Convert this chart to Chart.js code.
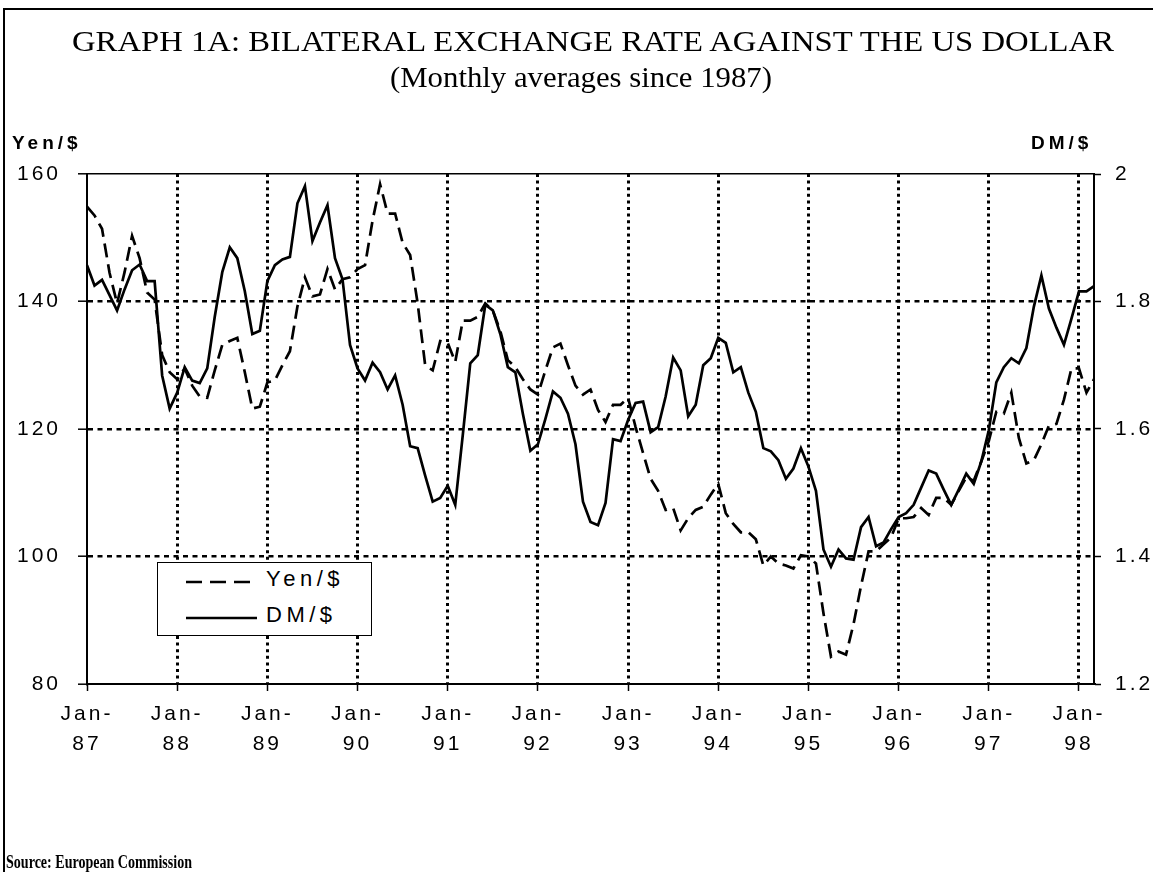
<!DOCTYPE html>
<html>
<head>
<meta charset="utf-8">
<script src="https://cdn.jsdelivr.net/npm/chart.js@4.4.1/dist/chart.umd.min.js"></script>
<style>
  html, body { margin: 0; padding: 0; background: #fff; }
  #wrap { position: relative; width: 1153px; height: 872px; overflow: hidden; background: #fff; }
  #chart { position: absolute; left: 0; top: 0; }
  .frameL { position: absolute; left: 3px; top: 8px; width: 2px; height: 864px; background: #000; }
  .frameT { position: absolute; left: 3px; top: 8px; width: 1150px; height: 2px; background: #000; }
  .title { position: absolute; white-space: nowrap; line-height: 34px;
           font-family: "Liberation Serif", "Times New Roman", serif; color: #000; }
  .title span { display: inline-block; transform-origin: 0 50%; }
  .unit { position: absolute; font-family: "Liberation Sans", Arial, sans-serif; font-weight: bold;
          font-size: 19px; letter-spacing: 4px; line-height: 22px; color: #000; white-space: nowrap; }
  #legend { position: absolute; left: 157px; top: 562px; width: 213px; height: 72px;
            border: 1.5px solid #000; background: #fff; }
  .lg { position: absolute; left: 108px; font-family: "Liberation Sans", Arial, sans-serif;
        font-size: 22px; letter-spacing: 4.5px; line-height: 26px; color: #000; white-space: nowrap; }
  #legend svg { position: absolute; left: 0; top: 0; }
  #source { position: absolute; left: 6px; top: 851px; font-family: "Liberation Serif", "Times New Roman", serif;
            font-weight: bold; font-size: 18px; line-height: 22px; color: #000; white-space: nowrap; }
  #source span { display: inline-block; transform-origin: 0 50%; }
</style>
</head>
<body>
<div id="wrap">
  <canvas id="chart" width="1153" height="872"></canvas>
  <div class="frameL"></div>
  <div class="frameT"></div>
  <div class="title" id="d1" style="left:72px;top:24px;font-size:29px;"><span id="t1">GRAPH 1A: BILATERAL EXCHANGE RATE AGAINST THE US DOLLAR</span></div>
  <div class="title" id="d2" style="left:390px;top:60px;font-size:29px;"><span id="t2">(Monthly averages since 1987)</span></div>
  <div class="unit" style="left:12px;top:132px;">Yen/$</div>
  <div class="unit" style="left:1031px;top:132px;">DM/$</div>
  <div id="legend">
    <svg width="213" height="72">
      <line x1="28" y1="19" x2="94" y2="19" stroke="#000" stroke-width="2.5" stroke-dasharray="16 8"/>
      <line x1="28" y1="55" x2="99" y2="55" stroke="#000" stroke-width="2.5"/>
    </svg>
    <div class="lg" style="top:3px;">Yen/$</div>
    <div class="lg" style="top:39px;">DM/$</div>
  </div>
  <div id="source"><span id="src">Source: European Commission</span></div>
</div>
<script>
// ---- Data ----
const yearLabels = ['87','88','89','90','91','92','93','94','95','96','97','98'];
const monthNames = ['Jan','Feb','Mar','Apr','May','Jun','Jul','Aug','Sep','Oct','Nov','Dec'];

// Yen per US dollar, monthly averages Jan-87 .. Mar-98
const yenPerDollar = [
  154.9, 153.5, 151.4, 144.5, 139.7, 144.6, 150.3, 146.8, 141.4, 140.3, 131.6, 128.9,
  127.8, 129.5, 126.8, 125.1, 124.9, 129.2, 133.2, 133.8, 134.3, 128.9, 123.2, 123.5,
  127.3, 127.6, 130.0, 132.2, 139.2, 143.8, 140.8, 141.1, 145.1, 141.9, 143.5, 143.8,
  145.1, 145.7, 152.7, 158.4, 153.8, 153.8, 149.2, 147.3, 139.7, 130.0, 129.2, 133.8,
  133.5, 130.5, 137.0, 137.0, 137.6, 139.7, 138.6, 135.4, 130.8, 129.7, 127.8, 126.2,
  125.4, 129.2, 132.8, 133.4, 130.0, 126.8, 125.4, 126.2, 123.0, 121.1, 123.8, 123.8,
  124.9, 120.3, 116.2, 112.2, 110.3, 107.3, 107.6, 104.1, 106.0, 107.3, 107.8, 109.7,
  111.4, 106.8, 105.1, 103.8, 103.8, 102.7, 98.6, 100.0, 98.9, 98.6, 98.1, 100.2,
  100.0, 98.9, 91.1, 84.3, 85.1, 84.6, 89.4, 95.4, 100.8, 100.8, 101.9, 103.0,
  106.0, 106.0, 106.2, 107.6, 106.5, 109.2, 109.2, 108.1, 110.3, 112.4, 111.9, 114.9,
  118.1, 122.7, 122.4, 125.7, 118.6, 114.6, 115.1, 117.6, 120.5, 120.8, 124.6, 129.5,
  129.5, 125.7, 127.8
];

// Deutsche Mark per US dollar, monthly averages Jan-87 .. Mar-98
const dmPerDollar = [
  1.857, 1.825, 1.834, 1.810, 1.786, 1.819, 1.849, 1.858, 1.832, 1.832, 1.684, 1.632,
  1.657, 1.697, 1.676, 1.672, 1.695, 1.776, 1.846, 1.885, 1.868, 1.816, 1.749, 1.754,
  1.832, 1.857, 1.866, 1.870, 1.954, 1.981, 1.895, 1.924, 1.951, 1.868, 1.835, 1.732,
  1.695, 1.676, 1.704, 1.689, 1.662, 1.684, 1.638, 1.573, 1.570, 1.527, 1.486, 1.492,
  1.511, 1.481, 1.590, 1.703, 1.716, 1.795, 1.786, 1.749, 1.697, 1.689, 1.624, 1.566,
  1.576, 1.616, 1.659, 1.649, 1.624, 1.576, 1.486, 1.454, 1.449, 1.484, 1.584, 1.581,
  1.614, 1.641, 1.643, 1.595, 1.603, 1.651, 1.712, 1.692, 1.620, 1.638, 1.700, 1.711,
  1.743, 1.735, 1.689, 1.697, 1.657, 1.627, 1.570, 1.565, 1.551, 1.522, 1.538, 1.570,
  1.541, 1.503, 1.411, 1.384, 1.411, 1.397, 1.395, 1.446, 1.462, 1.416, 1.422, 1.443,
  1.462, 1.468, 1.481, 1.508, 1.535, 1.530, 1.505, 1.481, 1.505, 1.530, 1.514, 1.549,
  1.598, 1.673, 1.697, 1.711, 1.703, 1.727, 1.792, 1.841, 1.789, 1.759, 1.732, 1.773,
  1.816, 1.816, 1.824
];

const yenAxis = { min: 80, max: 160, step: 20 };
const dmAxis  = { min: 1.2, max: 2.0, step: 0.2 };

// Month category labels
const monthLabels = [];
for (let i = 0; i < yenPerDollar.length; i++) {
  monthLabels.push(monthNames[i % 12] + '-' + yearLabels[Math.floor(i / 12)]);
}

// fit texts horizontally to the reference widths
function fitWidth(id, target) {
  const el = document.getElementById(id);
  const w = el.getBoundingClientRect().width;
  el.style.transform = 'scaleX(' + (target / w) + ')';
}
fitWidth('t1', 1042);
fitWidth('t2', 382);
fitWidth('src', 186);

const tickFont = { family: "'Liberation Sans', Arial, sans-serif", size: 21, lineHeight: 1.45 };
const clear = 'rgba(0,0,0,0)';

const spacingPlugin = {
  id: 'spacing',
  beforeDraw(chart) { chart.ctx.letterSpacing = '3px'; }
};

new Chart(document.getElementById('chart'), {
  type: 'line',
  data: {
    labels: monthLabels,
    datasets: [
      { label: 'Yen/$', data: yenPerDollar, yAxisID: 'y', borderColor: '#000', borderWidth: 2.7,
        borderDash: [14, 7], pointRadius: 0, tension: 0, fill: false },
      { label: 'DM/$', data: dmPerDollar, yAxisID: 'y2', borderColor: '#000', borderWidth: 2.7,
        pointRadius: 0, tension: 0, fill: false }
    ]
  },
  options: {
    responsive: false,
    animation: false,
    devicePixelRatio: 1,
    layout: { padding: { top: 174, left: 0, right: 0, bottom: 108 } },
    plugins: { legend: { display: false }, tooltip: { enabled: false }, title: { display: false } },
    scales: {
      x: {
        type: 'category',
        offset: false,
        afterFit(s) { s.height = 80; },
        ticks: {
          autoSkip: false, maxRotation: 0, minRotation: 0, color: '#000', font: tickFont, padding: 8,
          callback(value, index) {
            const l = monthLabels[index];
            return l.startsWith('Jan') ? ['Jan-', l.slice(4)] : '';
          }
        },
        grid: {
          drawOnChartArea: true, drawTicks: true, tickLength: 7,
          color: (c) => (c.index % 12 === 0 && c.index > 0 ? '#000' : clear),
          lineWidth: 3,
          tickColor: (c) => (c.index % 12 === 0 ? '#000' : clear),
          tickWidth: 1.5,
          tickBorderDash: []
        },
        border: { display: true, color: '#000', width: 2, dash: [3, 3.6] }
      },
      y: {
        position: 'left',
        min: yenAxis.min, max: yenAxis.max,
        afterFit(s) { s.width = 87; },
        ticks: { stepSize: yenAxis.step, color: '#000', font: tickFont, padding: 17,
                 callback: (v) => String(v) },
        grid: {
          drawTicks: true, tickLength: 9, tickColor: '#000', tickWidth: 1.5, tickBorderDash: [],
          color: (c) => (c.tick && c.tick.value === yenAxis.min ? clear : '#000'),
          lineWidth: (c) => (c.tick && c.tick.value === yenAxis.max ? 1.6 : 2.4)
        },
        border: { display: true, color: '#000', width: 2,
                  dash: (c) => (c.tick && c.tick.value !== yenAxis.max ? [5, 4.5] : []) }
      },
      y2: {
        position: 'right',
        min: dmAxis.min, max: dmAxis.max,
        afterFit(s) { s.width = 59; },
        ticks: { stepSize: dmAxis.step, color: '#000', font: tickFont, padding: 14,
                 callback: (v) => String(Math.round(v * 10) / 10) },
        grid: { drawOnChartArea: false, drawTicks: true, tickLength: 7, tickColor: '#000', tickWidth: 1.5 },
        border: { display: true, color: '#000', width: 2 }
      }
    }
  },
  plugins: [spacingPlugin]
});
</script>
</body>
</html>
